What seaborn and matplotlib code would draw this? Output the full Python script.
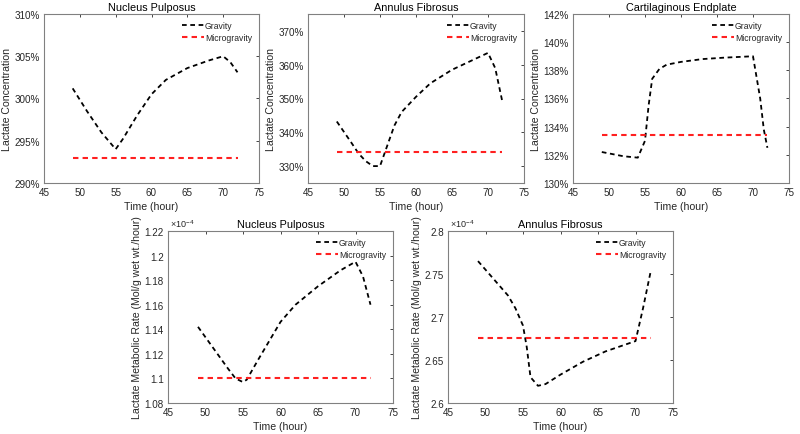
import numpy as np
import pandas as pd
import seaborn as sns
import matplotlib.pyplot as plt
from matplotlib.ticker import FuncFormatter

sns.set_theme(style="white")
plt.rcParams['font.family'] = ['Liberation Sans', 'DejaVu Sans']
plt.rcParams['mathtext.fontset'] = 'custom'
plt.rcParams['mathtext.rm'] = 'Liberation Sans'

# lactate concentration (%)
np_t = [49, 51, 53, 54, 55, 56, 58, 60, 62, 65, 68, 70, 71, 72]
np_g = [301.2, 298.5, 296.0, 295.0, 294.0, 295.2, 298.0, 300.5, 302.2, 303.6, 304.5, 305.0, 304.3, 303.1]
np_m = 293.0

af_t = [49, 51, 52, 53, 54, 55, 56, 57, 58, 60, 62, 65, 68, 70, 71, 72]
af_g = [343.2, 337.0, 333.8, 331.5, 330.0, 330.0, 336.0, 342.0, 346.0, 350.5, 354.5, 358.5, 361.5, 363.5, 359.0, 349.0]
af_m = 334.3

ce_t = [49, 52, 54, 55, 55.5, 56, 57, 58, 60, 63, 66, 70, 71, 71.5, 72]
ce_g = [132.2, 131.9, 131.8, 133.0, 135.5, 137.4, 138.1, 138.4, 138.6, 138.8, 138.9, 139.0, 136.0, 133.8, 132.5]
ce_m = 133.4

# lactate metabolic rate (Mol/g wet wt./hour)
npr_t = [49, 51, 53, 54, 55, 55.5, 57, 60, 62, 65, 68, 70, 71, 72]
npr_g = [1.142e-4, 1.125e-4, 1.108e-4, 1.100e-4, 1.097e-4, 1.099e-4, 1.115e-4, 1.146e-4, 1.160e-4,
         1.175e-4, 1.188e-4, 1.195e-4, 1.183e-4, 1.160e-4]
npr_m = 1.100e-4

afr_t = [49, 51, 53, 54, 55, 55.5, 56, 57, 58, 60, 63, 66, 70, 71, 72]
afr_g = [2.765e-4, 2.745e-4, 2.725e-4, 2.710e-4, 2.690e-4, 2.665e-4, 2.630e-4, 2.620e-4, 2.622e-4,
         2.633e-4, 2.648e-4, 2.660e-4, 2.672e-4, 2.710e-4, 2.752e-4]
afr_m = 2.675e-4

fig = plt.figure(figsize=(8, 4.35), dpi=100)
W, H = 800, 435
TXT = '#262626'


def box(l, t, r, b):
    return [l / W, 1 - b / H, (r - l) / W, (b - t) / H]


def panel(rect, t, g, m, title, ylim, yticks, ylabel, pct):
    ax = fig.add_axes(box(*rect))
    df = pd.DataFrame({'t': t, 'g': g})
    sns.lineplot(data=df, x='t', y='g', ax=ax, color='black', linestyle=(0, (2.6, 2)),
                 linewidth=1.3, label='Gravity')
    dm = pd.DataFrame({'t': [49, 72], 'm': [m, m]})
    sns.lineplot(data=dm, x='t', y='m', ax=ax, color='#ff2020', linestyle=(0, (2.6, 2)),
                 linewidth=1.5, label='Microgravity')
    ax.set_xlim(45, 75)
    ax.set_ylim(*ylim)
    ax.set_xticks(range(45, 80, 5))
    ax.set_yticks(yticks)
    if pct:
        ax.yaxis.set_major_formatter(FuncFormatter(lambda v, p: f'{v:.0f}%'))
    else:
        ax.yaxis.set_major_formatter(FuncFormatter(lambda v, p: f'{round(v * 1e4, 4):g}'))
        ax.text(0.01, 1.01, r'$\times10^{-4}$', transform=ax.transAxes, fontsize=6.5,
                color=TXT, ha='left', va='bottom')
    ax.set_title(title, fontsize=7.8, pad=3, color='black')
    ax.set_xlabel('Time (hour)', fontsize=7.6, labelpad=3, color=TXT)
    ax.set_ylabel(ylabel, fontsize=7.6, labelpad=2, color=TXT)
    ax.tick_params(direction='in', length=2.5, width=0.6, labelsize=7.1, colors=TXT,
                   top=True, right=True, pad=3)
    for s in ax.spines.values():
        s.set_color('#808080')
        s.set_linewidth(0.8)
    ax.legend(loc='upper right', frameon=False, fontsize=6.2, handlelength=2.6,
              handletextpad=0.1, labelspacing=0.35, borderaxespad=0.4)
    return ax


panel((44, 15, 259, 184), np_t, np_g, np_m, 'Nucleus Pulposus', (290, 310),
      range(290, 311, 5), 'Lactate Concentration', True)
panel((308, 15, 524, 184), af_t, af_g, af_m, 'Annulus Fibrosus', (325, 375),
      range(330, 371, 10), 'Lactate Concentration', True)
panel((573, 15, 789, 184), ce_t, ce_g, ce_m, 'Cartilaginous Endplate', (130, 142),
      range(130, 143, 2), 'Lactate Concentration', True)
panel((168, 232, 393, 404), npr_t, npr_g, npr_m, 'Nucleus Pulposus', (1.08e-4, 1.22e-4),
      np.arange(1.08, 1.221, 0.02) * 1e-4, 'Lactate Metabolic Rate (Mol/g wet wt./hour)', False)
panel((448, 232, 673, 404), afr_t, afr_g, afr_m, 'Annulus Fibrosus', (2.6e-4, 2.8e-4),
      np.arange(2.6, 2.801, 0.05) * 1e-4, 'Lactate Metabolic Rate (Mol/g wet wt./hour)', False)

fig.savefig('out.png', dpi=100)
